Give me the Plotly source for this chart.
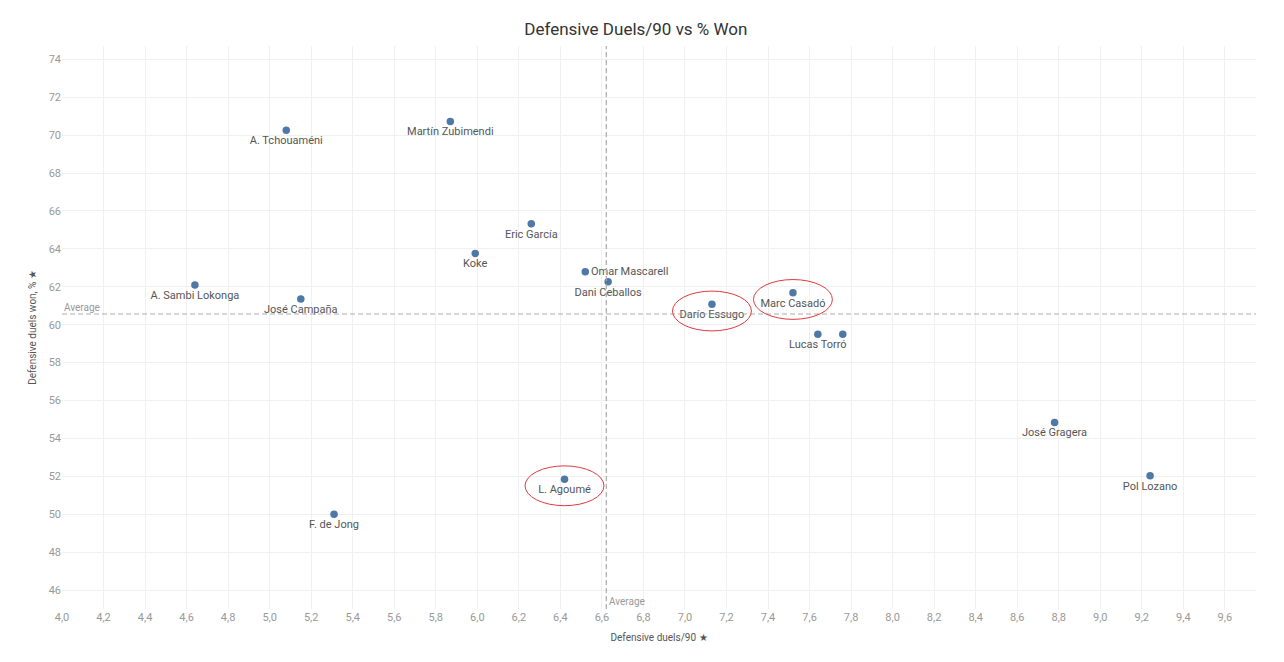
import numpy as np
import plotly.graph_objects as go

# -- datos --------------------------------------------------------------------------------------------------- -- #
jugadores = ["A. Tchouaméni", "Martín Zubimendi", "Eric García", "Koke", "Omar Mascarell",
             "Dani Ceballos", "A. Sambi Lokonga", "José Campaña", "Darío Essugo", "Marc Casadó",
             "Lucas Torró", "", "José Gragera", "Pol Lozano", "L. Agoumé", "F. de Jong"]

duelos_90 = [5.08, 5.87, 6.26, 5.99, 6.52, 6.63, 4.64, 5.15, 7.13, 7.52,
             7.64, 7.76, 8.78, 9.24, 6.42, 5.31]

pct_ganados = [70.25, 70.72, 65.32, 63.76, 62.79, 62.26, 62.09, 61.36, 61.07, 61.68,
               59.49, 59.49, 54.84, 52.03, 51.85, 50.00]

destacados = ["Darío Essugo", "Marc Casadó", "L. Agoumé"]

ticks_x = [4.0, 4.2, 4.4, 4.6, 4.8, 5.0, 5.2, 5.4, 5.6, 5.8, 6.0, 6.2, 6.4, 6.6, 6.8,
           7.0, 7.2, 7.4, 7.6, 7.8, 8.0, 8.2, 8.4, 8.6, 8.8, 9.0, 9.2, 9.4, 9.6]
ticks_y = [46, 48, 50, 52, 54, 56, 58, 60, 62, 64, 66, 68, 70, 72, 74]

prom_x = np.mean(duelos_90)
prom_y = np.mean(pct_ganados)

fuente = "Roboto"

fig = go.Figure()

# puntos con etiqueta
posiciones = ["middle right" if j == "Omar Mascarell" else "bottom center" for j in jugadores]
fig.add_trace(go.Scatter(x=duelos_90, y=pct_ganados, mode="markers+text", text=jugadores,
                         textposition=posiciones,
                         textfont=dict(family=fuente, size=11, color="#555555"),
                         marker=dict(size=7.5, color="#4e79a7"),
                         hoverinfo="text", showlegend=False))

# lineas de promedio
fig.add_hline(y=prom_y, line=dict(color="#ababab", width=1.2, dash="5px,3px"))
fig.add_vline(x=prom_x, line=dict(color="#ababab", width=1.2, dash="5px,3px"))

fig.add_annotation(x=0, xref="paper", y=prom_y, yref="y", text="Average", showarrow=False,
                   xanchor="left", yanchor="bottom", xshift=0, yshift=-1,
                   font=dict(family=fuente, size=10, color="#999999"))
fig.add_annotation(x=prom_x, xref="x", y=0, yref="paper", text="Average", showarrow=False,
                   xanchor="left", yanchor="bottom", xshift=1, yshift=0,
                   font=dict(family=fuente, size=10, color="#999999"))

# elipses rojas en jugadores destacados
for j in destacados:
    i = jugadores.index(j)
    cx, cy = duelos_90[i], pct_ganados[i] - 0.35
    fig.add_shape(type="circle", xref="x", yref="y",
                  x0=cx - 0.19, x1=cx + 0.19, y0=cy - 1.05, y1=cy + 1.05,
                  line=dict(color="#e0393e", width=1))

fig.update_layout(width=1284, height=662,
                  title=dict(text="Defensive Duels/90 vs % Won", x=0.489, xanchor="center",
                             y=0.968, yanchor="middle",
                             font=dict(family=fuente, size=17, color="#333333")),
                  separators=",.",
                  plot_bgcolor="white", paper_bgcolor="white",
                  margin=dict(l=54, r=36, t=38, b=61),
                  font=dict(family=fuente))

fig.update_xaxes(range=[4.0, 9.75], tickvals=ticks_x, tickformat=".1f",
                 showgrid=True, gridcolor="#f0f0f0", gridwidth=1, zeroline=False,
                 showline=False, ticks="",
                 tickfont=dict(family=fuente, size=11, color="#999999"),
                 title=dict(text="Defensive duels/90 ★", standoff=10,
                            font=dict(family=fuente, size=10, color="#555555")))

fig.update_yaxes(range=[45.0, 74.7], tickvals=ticks_y,
                 showgrid=True, gridcolor="#f0f0f0", gridwidth=1, zeroline=False,
                 showline=False, ticks="",
                 tickfont=dict(family=fuente, size=11, color="#999999"),
                 title=dict(text="Defensive duels won, % ★", standoff=10,
                            font=dict(family=fuente, size=10, color="#555555")))

fig.write_html("out.html")
